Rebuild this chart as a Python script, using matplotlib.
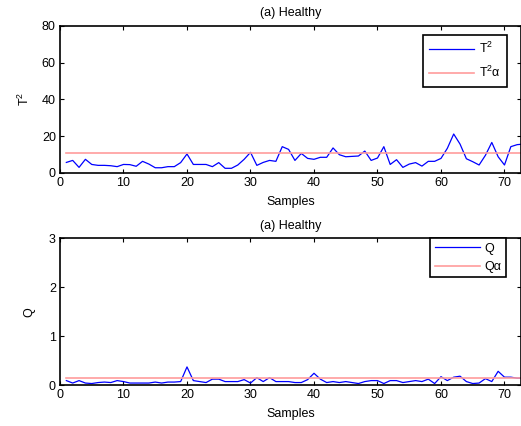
import matplotlib
matplotlib.use("Agg")
import matplotlib.pyplot as plt
import numpy as np

plt.rcParams["font.family"] = ["Liberation Sans", "DejaVu Sans"]
plt.rcParams["font.size"] = 9
plt.rcParams["mathtext.fontset"] = "custom"
plt.rcParams["mathtext.rm"] = "Liberation Sans"
plt.rcParams["mathtext.it"] = "Liberation Sans:italic"

# T^2 statistic per sample (healthy case)
t2 = [5.6, 6.7, 2.9, 7.3, 4.5, 4.0, 4.0, 3.8, 3.3, 4.5,
      4.4, 3.5, 6.2, 4.7, 2.7, 2.7, 3.3, 3.3, 5.5, 10.2,
      4.5, 4.5, 4.5, 3.3, 5.5, 2.4, 2.4, 4.2, 7.3, 11.1,
      4.0, 5.6, 6.7, 6.2, 14.2, 12.7, 6.7, 10.5, 7.8, 7.3,
      8.4, 8.4, 13.5, 9.8, 8.7, 8.9, 9.1, 11.8, 6.7, 8.0,
      14.2, 4.5, 7.1, 2.9, 4.7, 5.5, 3.6, 6.2, 6.2, 7.8,
      13.3, 21.1, 15.6, 7.6, 6.0, 4.2, 9.5, 16.5, 8.7, 4.2,
      14.2, 15.3, 15.6]
t2_alpha = 10.7

# Q (SPE) statistic per sample
q = [0.09, 0.04, 0.09, 0.04, 0.03, 0.05, 0.06, 0.05, 0.09, 0.07,
     0.04, 0.04, 0.04, 0.04, 0.06, 0.04, 0.06, 0.06, 0.07, 0.37,
     0.09, 0.07, 0.05, 0.12, 0.12, 0.07, 0.07, 0.07, 0.11, 0.04,
     0.15, 0.07, 0.15, 0.07, 0.07, 0.07, 0.05, 0.05, 0.11, 0.24,
     0.12, 0.05, 0.07, 0.05, 0.07, 0.05, 0.03, 0.07, 0.09, 0.09,
     0.03, 0.09, 0.09, 0.05, 0.07, 0.09, 0.07, 0.12, 0.03, 0.17,
     0.09, 0.16, 0.18, 0.07, 0.03, 0.04, 0.13, 0.07, 0.28, 0.16,
     0.16, 0.14, 0.14]
q_alpha = 0.15

samples = np.arange(1, len(t2) + 1)
red = "#ff9c9c"

fig = plt.figure(figsize=(5.21, 4.26), dpi=100)
ax1 = fig.add_axes([60 / 521, 1 - 172.7 / 426, 1 - 60 / 521, 146.7 / 426])
ax2 = fig.add_axes([60 / 521, 1 - 385 / 426, 1 - 60 / 521, 146.7 / 426])


def style(ax, ylim, yticks, ylabel, ypad):
    ax.set_xlim(0, 72.6)
    ax.set_ylim(*ylim)
    ax.set_xticks(range(0, 71, 10))
    ax.set_yticks(yticks)
    ax.tick_params(direction="in", length=3, width=0.8, top=True, right=True,
                   labelsize=9, pad=3)
    for s in ax.spines.values():
        s.set_linewidth(1.2)
    ax.set_title("(a) Healthy", fontsize=9, pad=7)
    ax.set_xlabel("Samples", fontsize=9, labelpad=5)
    ax.set_ylabel(ylabel, fontsize=9, labelpad=ypad)


def add_legend(ax, anchor, spacing, pad):
    leg = ax.legend(loc="upper right", bbox_to_anchor=anchor,
                    handlelength=3.6, fontsize=9, fancybox=False,
                    framealpha=1, borderaxespad=0, handletextpad=0.4,
                    labelspacing=spacing, borderpad=pad)
    leg.get_frame().set_edgecolor("black")
    leg.get_frame().set_linewidth(1.2)


ax1.plot(samples, t2, color="blue", lw=0.9, label=r"$\mathrm{T}^2$")
ax1.plot(samples, [t2_alpha] * len(samples), color=red, lw=1.2,
         label=r"$\mathrm{T}^2$α")
style(ax1, (0, 80), range(0, 81, 20), r"$\mathrm{T}^2$", 7)
add_legend(ax1, (0.9696, 0.9387), 0.7, 0.5)

ax2.plot(samples, q, color="blue", lw=0.9, label="Q")
ax2.plot(samples, [q_alpha] * len(samples), color=red, lw=1.2, label="Qα")
style(ax2, (0, 3), range(0, 4), "Q", 10)
add_legend(ax2, (0.9675, 1.0), 0.5, 0.35)

fig.savefig("out.png", dpi=100)
plt.close(fig)
